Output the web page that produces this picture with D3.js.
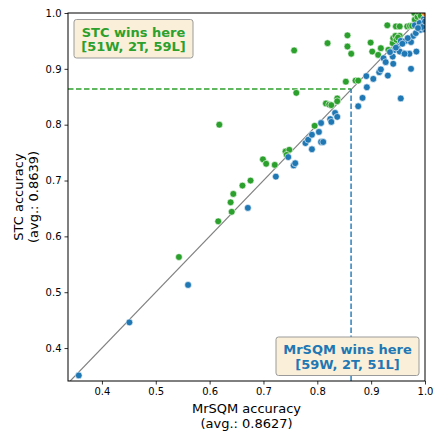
<!DOCTYPE html>
<html>
<head>
<meta charset="utf-8">
<script src="https://cdn.jsdelivr.net/npm/d3@7"></script>
<style>
  body { margin: 0; background: #fff; }
  svg text { font-family: "DejaVu Sans", sans-serif; }
</style>
</head>
<body>
<div id="chart"></div>
<script>
// accuracy per dataset, MrSQM (x) vs STC (y)
const mrsqmAcc = [
  // STC wins
  0.543, 0.616, 0.618, 0.641, 0.639, 0.644, 0.661, 0.676, 0.699, 0.705,
  0.721, 0.741, 0.748, 0.743, 0.757, 0.761, 0.795, 0.816, 0.822, 0.826,
  0.819, 0.837, 0.837, 0.856, 0.856, 0.863, 0.853, 0.871, 0.876, 0.899,
  0.902, 0.913, 0.918, 0.930, 0.932, 0.940, 0.941, 0.946, 0.945, 0.953,
  0.953, 0.967, 0.972, 0.981, 0.980, 0.986, 0.989, 0.992, 0.947, 0.950,
  0.976,
  // MrSQM wins
  0.357, 0.451, 0.560, 0.671, 0.723, 0.746, 0.756, 0.759, 0.778, 0.783,
  0.790, 0.790, 0.803, 0.807, 0.807, 0.811, 0.824, 0.826, 0.833, 0.837,
  0.876, 0.884, 0.892, 0.891, 0.904, 0.915, 0.918, 0.923, 0.927, 0.931,
  0.940, 0.941, 0.944, 0.949, 0.955, 0.960, 0.964, 0.971, 0.955, 0.974,
  0.974, 0.978, 0.983, 0.984, 0.992, 0.997, 0.998, 0.999, 0.981, 0.953,
  0.962, 0.946, 0.958, 0.935, 0.968, 0.990, 0.995, 1.000, 0.987,
  // ties
  1.000, 1.000
];
const stcAcc = [
  0.563, 0.627, 0.800, 0.644, 0.661, 0.676, 0.691, 0.700, 0.738, 0.730,
  0.728, 0.752, 0.755, 0.746, 0.933, 0.857, 0.798, 0.838, 0.836, 0.835,
  0.946, 0.847, 0.842, 0.960, 0.940, 0.927, 0.877, 0.879, 0.879, 0.947,
  0.931, 0.925, 0.937, 0.978, 0.934, 0.946, 0.955, 0.976, 0.959, 0.976,
  0.959, 0.976, 0.977, 0.988, 1.000, 0.993, 1.000, 0.995, 0.952, 0.956,
  0.977,
  0.351, 0.446, 0.513, 0.651, 0.707, 0.742, 0.727, 0.731, 0.767, 0.773,
  0.782, 0.756, 0.787, 0.803, 0.769, 0.769, 0.810, 0.805, 0.821, 0.814,
  0.833, 0.848, 0.867, 0.887, 0.882, 0.894, 0.899, 0.919, 0.912, 0.888,
  0.922, 0.909, 0.934, 0.940, 0.950, 0.928, 0.950, 0.927, 0.847, 0.900,
  0.948, 0.959, 0.964, 0.931, 0.970, 0.979, 0.989, 0.971, 0.978, 0.931,
  0.927, 0.938, 0.945, 0.930, 0.955, 0.982, 0.975, 0.985, 0.973,
  1.000, 1.000
];
const xTicks = [0.4, 0.5, 0.6, 0.7, 0.8, 0.9, 1.0];
const yTicks = [0.4, 0.5, 0.6, 0.7, 0.8, 0.9, 1.0];
const avgMrsqm = 0.8627;
const avgStc = 0.8639;
const stcBoxLines = ['STC wins here', '[51W, 2T, 59L]'];
const mrsqmBoxLines = ['MrSQM wins here', '[59W, 2T, 51L]'];

const W = 436, H = 432;
const margin = {top: 13, right: 11, bottom: 51, left: 68};
const width = W - margin.left - margin.right;
const height = H - margin.top - margin.bottom;

const green = '#2ca02c', blue = '#1f77b4', orange = '#ff7f0e';

const svg = d3.select('#chart').append('svg')
  .attr('width', W).attr('height', H);
const g = svg.append('g')
  .attr('transform', `translate(${margin.left},${margin.top})`);

const x = d3.scaleLinear().domain([0.337, 1.0]).range([0, width]);
const y = d3.scaleLinear().domain([0.341, 1.0]).range([height, 0]);

const points = mrsqmAcc.map((v, i) => ({x: v, y: stcAcc[i]}));

// clip everything to the axes box
g.append('clipPath').attr('id', 'clip')
  .append('rect').attr('width', width).attr('height', height);
const plot = g.append('g').attr('clip-path', 'url(#clip)');

// diagonal
plot.append('line')
  .attr('x1', x(0.3)).attr('y1', y(0.3))
  .attr('x2', x(1.05)).attr('y2', y(1.05))
  .attr('stroke', '#808080').attr('stroke-width', 1.2);

// average lines
plot.append('line')
  .attr('x1', 0).attr('x2', x(avgMrsqm))
  .attr('y1', y(avgStc)).attr('y2', y(avgStc))
  .attr('stroke', green).attr('stroke-width', 1.4)
  .attr('stroke-dasharray', '5.5,2.5');
plot.append('line')
  .attr('x1', x(avgMrsqm)).attr('x2', x(avgMrsqm))
  .attr('y1', height).attr('y2', y(avgStc))
  .attr('stroke', blue).attr('stroke-width', 1.4)
  .attr('stroke-dasharray', '5.5,2.5');

plot.selectAll('.dot')
  .data(points)
  .enter()
  .append('circle')
  .attr('class', 'dot')
  .attr('cx', d => x(d.x))
  .attr('cy', d => y(d.y))
  .attr('r', 3.4)
  .attr('fill', d => d.y > d.x ? green : (d.y < d.x ? blue : orange))
  .attr('stroke', '#fff')
  .attr('stroke-width', 0.6);

// axes
const xAxis = g.append('g')
  .attr('transform', `translate(0,${height})`)
  .call(d3.axisBottom(x).tickValues(xTicks).tickFormat(d3.format('.1f')).tickSize(3.5).tickPadding(3));
const yAxis = g.append('g')
  .call(d3.axisLeft(y).tickValues(yTicks).tickFormat(d3.format('.1f')).tickSize(3.5).tickPadding(3));
[xAxis, yAxis].forEach(a => {
  a.select('.domain').remove();
  a.selectAll('text').style('font-size', '10px').attr('fill', '#000');
  a.selectAll('line').attr('stroke', '#000').attr('stroke-width', 0.8);
});

g.append('rect')
  .attr('width', width).attr('height', height)
  .attr('fill', 'none').attr('stroke', '#000').attr('stroke-width', 1);

// axis labels
const xl = svg.append('text')
  .attr('text-anchor', 'middle')
  .style('font-size', '13px');
xl.append('tspan').attr('x', margin.left + width / 2).attr('y', 413).text('MrSQM accuracy');
xl.append('tspan').attr('x', margin.left + width / 2).attr('y', 427.5).text(`(avg.: ${avgMrsqm})`);

const yl = svg.append('text')
  .attr('text-anchor', 'middle')
  .attr('transform', `translate(0,${margin.top + height / 2}) rotate(-90)`)
  .style('font-size', '13px');
yl.append('tspan').attr('x', 0).attr('y', 23).text('STC accuracy');
yl.append('tspan').attr('x', 0).attr('y', 37.5).text(`(avg.: ${avgStc})`);

// annotation boxes
function textBox(lines, color, cx, y0, w, h) {
  const b = svg.append('g');
  b.append('rect')
    .attr('x', cx - w / 2).attr('y', y0)
    .attr('width', w).attr('height', h)
    .attr('rx', 2.5)
    .attr('fill', '#faefd9')
    .attr('stroke', '#9a9a9a').attr('stroke-width', 1);
  const t = b.append('text')
    .attr('text-anchor', 'middle')
    .attr('fill', color)
    .style('font-size', '13px')
    .style('font-weight', 'bold');
  lines.forEach((l, i) => {
    t.append('tspan').attr('x', cx).attr('y', y0 + 17 + i * 14.5).text(l);
  });
}
textBox(stcBoxLines, green, 133.5, 19.5, 119, 38.5);
textBox(mrsqmBoxLines, blue, 347.5, 337, 143, 38.5);
</script>
</body>
</html>
